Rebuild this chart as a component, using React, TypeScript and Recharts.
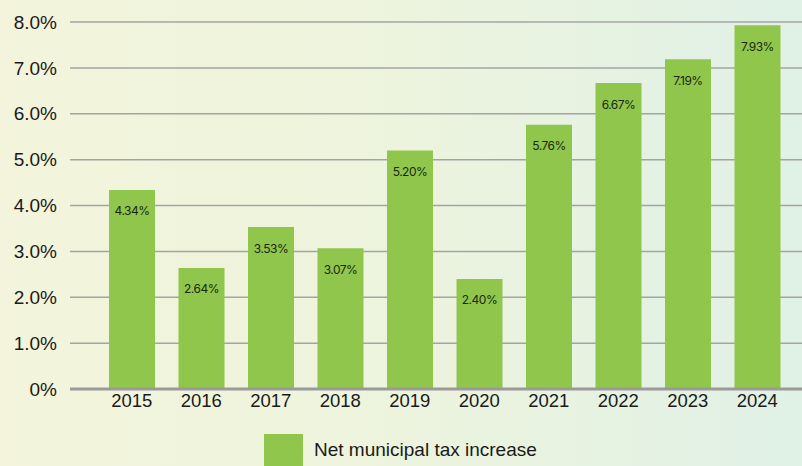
import React from 'react';
import { BarChart, Bar, XAxis, YAxis, CartesianGrid, LabelList, Legend } from 'recharts';

const years = ['2015', '2016', '2017', '2018', '2019', '2020', '2021', '2022', '2023', '2024'];
const taxIncrease = [4.34, 2.64, 3.53, 3.07, 5.2, 2.4, 5.76, 6.67, 7.19, 7.93];
const yTicks = [0, 1, 2, 3, 4, 5, 6, 7, 8];

const BAR_GREEN = '#90c64b';

const chartData = years.map((year, i) => ({ year, value: taxIncrease[i] }));

const formatTick = (v: number) => (v === 0 ? '0%' : `${v.toFixed(1)}%`);

// legend drawn by hand so the big swatch sits where the original has it
const LegendContent = () => (
    <div style={{ position: 'relative', width: 802, height: 47 }}>
        <div
            style={{
                position: 'absolute',
                left: 264,
                top: 15,
                width: 39,
                height: 34,
                background: BAR_GREEN,
            }}
        />
        <span
            style={{
                position: 'absolute',
                left: 314,
                top: 20,
                fontFamily: '"Liberation Sans", Arial, sans-serif',
                fontSize: 19,
                color: '#1a1a1a',
                whiteSpace: 'nowrap',
            }}
        >
            Net municipal tax increase
        </span>
    </div>
);

export default function App() {
    return (
        <div
            style={{
                position: 'fixed',
                left: 0,
                top: 0,
                width: 802,
                height: 466,
                overflow: 'hidden',
                background: 'linear-gradient(to right, #f4f4dc 0%, #eef4dd 45%, #e0f1e6 100%)',
            }}
        >
            <BarChart
                width={802}
                height={466}
                data={chartData}
                margin={{ top: 22, right: 0, left: 0, bottom: 0 }}
                barSize={46}
            >
                <CartesianGrid vertical={false} stroke="#a4a4a4" strokeWidth={1.5} />
                <XAxis
                    dataKey="year"
                    height={30}
                    padding={{ left: 27, right: 10 }}
                    tickLine={false}
                    tickSize={0}
                    tickMargin={5}
                    axisLine={{ stroke: '#9a9a9a', strokeWidth: 3 }}
                    tick={{ fill: '#1a1a1a', fontSize: 18.5, fontFamily: '"Liberation Sans", Arial, sans-serif' }}
                />
                <YAxis
                    width={70}
                    domain={[0, 8]}
                    ticks={yTicks}
                    tickFormatter={formatTick}
                    axisLine={false}
                    tickLine={false}
                    tickSize={0}
                    tickMargin={13}
                    tick={{ fill: '#1a1a1a', fontSize: 19, fontFamily: '"Liberation Sans", Arial, sans-serif' }}
                />
                <Legend verticalAlign="bottom" height={47} content={<LegendContent />} wrapperStyle={{ left: 0, width: 802 }} />
                <Bar dataKey="value" fill={BAR_GREEN} isAnimationActive={false}>
                    <LabelList
                        dataKey="value"
                        position="insideTop"
                        offset={17}
                        formatter={(v: number) => `${v.toFixed(2)}%`}
                        style={{
                            fill: '#1c2612',
                            fontSize: 12,
                            fontFamily: 'Inter, sans-serif',
                            letterSpacing: -0.5,
                        }}
                    />
                </Bar>
            </BarChart>
        </div>
    );
}
